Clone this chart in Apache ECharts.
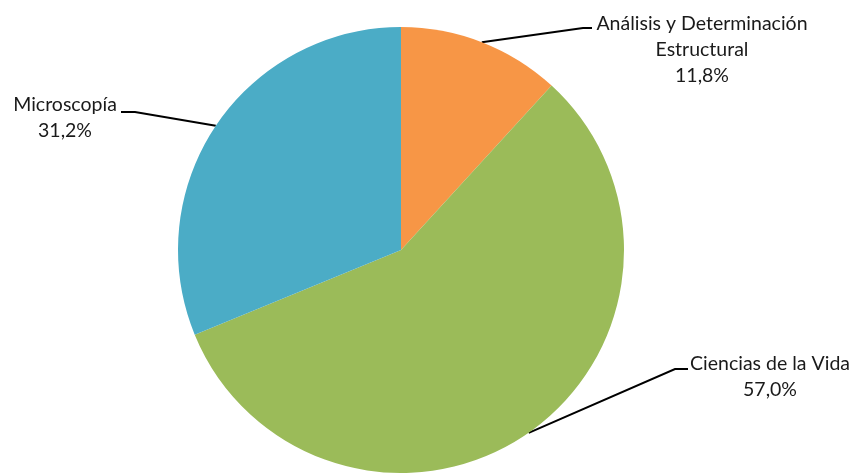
<!DOCTYPE html>
<html>
<head>
<meta charset="utf-8">
<script src="https://cdn.jsdelivr.net/npm/echarts@6/dist/echarts.min.js"></script>
<style>
html,body{margin:0;padding:0;background:#fff;}
#chart{width:857px;height:473px;}
</style>
</head>
<body>
<div id="chart"></div>
<script>
// Data
const categories = ['Análisis y Determinación\nEstructural', 'Ciencias de la Vida', 'Microscopía'];
const values = [11.8, 57.0, 31.2];
const colors = ['#F79646', '#9BBB59', '#4BACC6'];

// Label placement (layout only)
const labelPos = [
  {x: 702, y: 50, align: 'center', lineEnd: [592, 28], elbow: [583, 28]},
  {x: 770, y: 377, align: 'center', lineEnd: [688, 369], elbow: [675, 369]},
  {x: 65, y: 118, align: 'center', lineEnd: [121, 112], elbow: [135, 112]}
];

const chart = echarts.init(document.getElementById('chart'), null, {renderer: 'canvas'});
chart.setOption({
  animation: false,
  series: [{
    type: 'pie',
    center: [401, 250],
    radius: 223,
    startAngle: 90,
    clockwise: true,
    avoidLabelOverlap: false,
    itemStyle: {borderWidth: 0},
    emphasis: {disabled: true},
    data: categories.map((c, i) => ({name: c, value: values[i], itemStyle: {color: colors[i]}})),
    label: {
      show: true,
      position: 'outside',
      fontFamily: 'Lato, "Open Sans", sans-serif',
      fontSize: 19.5,
      lineHeight: 26,
      color: '#1a1a1a',
      align: 'center',
      formatter: p => p.name + '\n' + p.value.toFixed(1).replace('.', ',') + '%'
    },
    labelLine: {
      show: true,
      lineStyle: {color: '#000', width: 2}
    },
    labelLayout: function (params) {
      const lp = labelPos[params.dataIndex];
      const pts = params.labelLinePoints;
      const start = pts && pts[0] ? pts[0] : lp.elbow;
      return {
        x: lp.x,
        y: lp.y,
        align: lp.align,
        verticalAlign: 'middle',
        labelLinePoints: [start, lp.elbow, lp.lineEnd]
      };
    }
  }]
});
</script>
</body>
</html>
